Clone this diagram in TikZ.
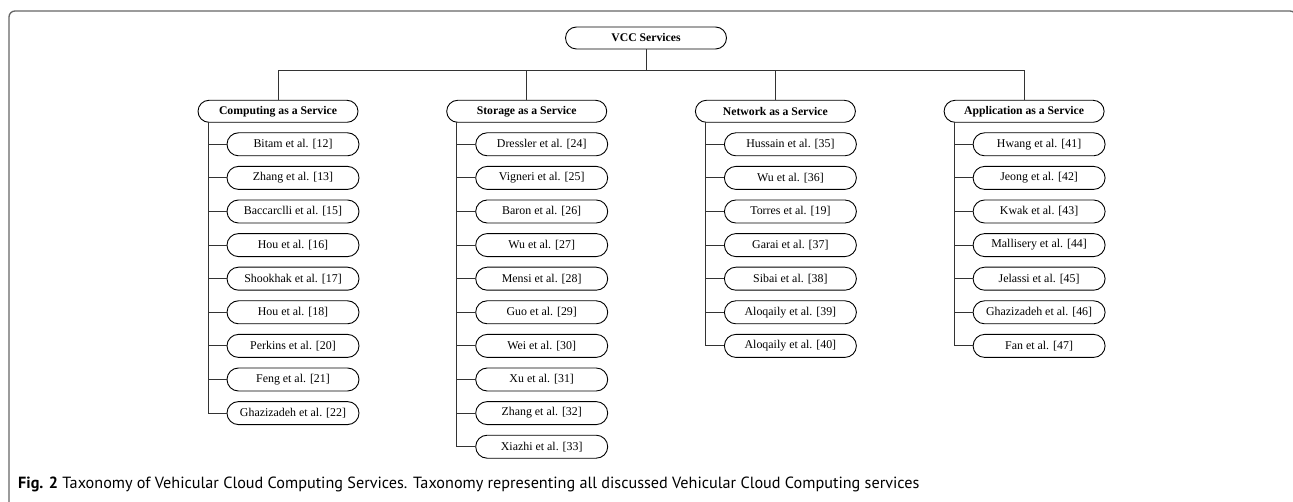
\documentclass[tikz,border=0pt]{standalone}
\usepackage{fontspec}
\setmainfont{Liberation Serif}
\newfontfamily\capfont{PT Sans}
\usetikzlibrary{shapes.misc}
\begin{document}
\begin{tikzpicture}[x=1pt,y=-1pt,
  box/.style={rounded rectangle, draw=black, line width=0.9pt, minimum height=22pt, inner sep=0pt, font=\fontsize{11.9}{13}\selectfont},
  cat/.style={box, minimum width=160pt, font=\fontsize{11.7}{13}\selectfont\bfseries},
  leaf/.style={box, minimum width=132pt, minimum height=23pt},
  conn/.style={draw=black!80, line width=1pt},
  frame/.style={draw=black!60, line width=1.3pt, rounded corners=6pt},
]
\useasboundingbox (0,0) rectangle (1293,502);
\draw[frame] (9,504) -- (9,11) -- (1296,11) -- (1296,504);

\def\spc{33.6}
\node[box, minimum width=161pt, font=\fontsize{11.7}{13}\selectfont\bfseries] (root) at (646,38) {VCC Services};

\node[cat] (L1) at (278,111.3) {Computing as a Service};
\node[cat] (L2) at (526.7,111.3) {Storage as a Service};
\node[cat] (L3) at (775.4,111.3) {Network as a Service};
\node[cat] (L4) at (1024.1,111.3) {Application as a Service};

\coordinate (bus) at (0,70.7);
\draw[conn] (root.south) -- (root.south |- bus);
\draw[conn] (L1.north) -- (L1.north |- bus) -- (L4.north |- bus) -- (L4.north);
\draw[conn] (L2.north) -- (L2.north |- bus);
\draw[conn] (L3.north) -- (L3.north |- bus);

% Computing
\coordinate (T1) at (208,122);
\foreach \t [count=\k] in {{Bitam et al. [12]},{Zhang et al. [13]},{Baccarclli et al. [15]},{Hou et al. [16]},{Shookhak et al. [17]},{Hou et al. [18]},{Perkins et al. [20]},{Feng et al. [21]},{Ghazizadeh et al. [22]}}{
  \node[leaf] (A\k) at (293,144.3+\k*\spc-\spc) {\t};
  \draw[conn] (A\k.west) -- (A\k.west -| T1);
}
\draw[conn] (T1) -- (T1 |- A9.west);

% Storage
\coordinate (T2) at (456.7,122);
\foreach \t [count=\k] in {{Dressler et al. [24]},{Vigneri et al. [25]},{Baron et al. [26]},{Wu et al. [27]},{Mensi et al. [28]},{Guo et al. [29]},{Wei et al. [30]},{Xu et al. [31]},{Zhang et al. [32]},{Xiazhi et al. [33]}}{
  \node[leaf] (B\k) at (541.7,144.3+\k*\spc-\spc) {\t};
  \draw[conn] (B\k.west) -- (B\k.west -| T2);
}
\draw[conn] (T2) -- (T2 |- B10.west);

% Network
\coordinate (T3) at (705.4,122);
\foreach \t [count=\k] in {{Hussain et al. [35]},{Wu et al. [36]},{Torres et al. [19]},{Garai et al. [37]},{Sibai et al. [38]},{Aloqaily et al. [39]},{Aloqaily et al. [40]}}{
  \node[leaf] (C\k) at (790.4,144.3+\k*\spc-\spc) {\t};
  \draw[conn] (C\k.west) -- (C\k.west -| T3);
}
\draw[conn] (T3) -- (T3 |- C7.west);

% Application
\coordinate (T4) at (954.1,122);
\foreach \t [count=\k] in {{Hwang et al. [41]},{Jeong et al. [42]},{Kwak et al. [43]},{Mallisery et al. [44]},{Jelassi et al. [45]},{Ghazizadeh et al. [46]},{Fan et al. [47]}}{
  \node[leaf] (D\k) at (1039.1,144.3+\k*\spc-\spc) {\t};
  \draw[conn] (D\k.west) -- (D\k.west -| T4);
}
\draw[conn] (T4) -- (T4 |- D7.west);

\node[anchor=base west, inner sep=0pt, font=\capfont\fontsize{16.2}{18}\selectfont] (cap) at (18,488) {\textbf{Fig. 2} Taxonomy of Vehicular Cloud Computing Services. Taxonomy representing all discussed Vehicular Cloud Computing services};
\end{tikzpicture}
\end{document}
